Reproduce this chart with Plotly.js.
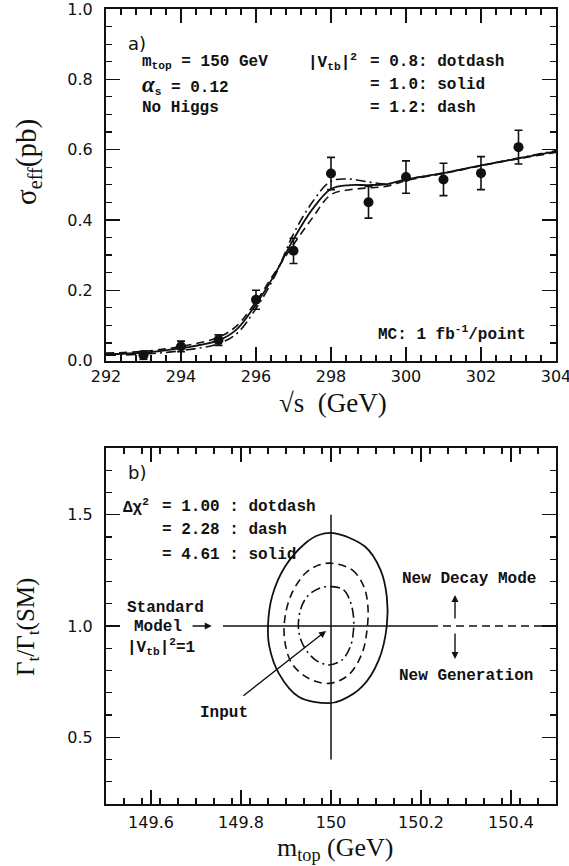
<!DOCTYPE html>
<html>
<head>
<meta charset="utf-8">
<script src="https://cdn.plot.ly/plotly-3.0.1.min.js"></script>
<style>
  html, body { margin: 0; padding: 0; background: #fff; }
  #chart { width: 569px; height: 866px; }
</style>
</head>
<body>
<div id="chart"></div>
<script>
// ---- Panel a: effective cross section near threshold ----
const sqrtS     = [293, 294, 295, 296, 297, 298, 299, 300, 301, 302, 303];
const sigmaEff  = [0.015, 0.040, 0.058, 0.173, 0.312, 0.532, 0.450, 0.522, 0.515, 0.533, 0.607];
const sigmaErr  = [0.012, 0.015, 0.015, 0.027, 0.036, 0.046, 0.045, 0.046, 0.046, 0.047, 0.048];

const curveS     = [292, 293, 294, 295, 295.5, 296, 296.5, 297, 297.5, 298, 298.5, 299, 299.5, 300, 301, 302, 303, 304];
const sigVtb10   = [0.018, 0.022, 0.035, 0.057, 0.090, 0.160, 0.245, 0.345, 0.430, 0.488, 0.499, 0.499, 0.502, 0.515, 0.533, 0.555, 0.575, 0.595];
const sigVtb08   = [0.015, 0.018, 0.028, 0.048, 0.078, 0.148, 0.240, 0.360, 0.450, 0.510, 0.516, 0.508, 0.502, 0.515, 0.533, 0.555, 0.576, 0.597];
const sigVtb12   = [0.021, 0.026, 0.040, 0.066, 0.100, 0.168, 0.250, 0.330, 0.405, 0.472, 0.486, 0.491, 0.496, 0.512, 0.532, 0.554, 0.574, 0.592];

// ---- Panel b: fit contours in (m_top, Gamma_t / Gamma_t(SM)) ----
const chi2_100_m = [150.002, 150.028, 150.043, 150.050, 150.050, 150.043, 150.024, 149.995, 149.966, 149.940, 149.928, 149.932, 149.947, 149.973, 150.002];
const chi2_100_g = [1.177, 1.162, 1.109, 1.042, 0.982, 0.907, 0.847, 0.825, 0.847, 0.907, 0.982, 1.072, 1.132, 1.169, 1.177];

const chi2_228_m = [150.002, 150.047, 150.073, 150.082, 150.080, 150.069, 150.039, 149.995, 149.950, 149.913, 149.897, 149.898, 149.913, 149.943, 149.973, 150.002];
const chi2_228_g = [1.282, 1.252, 1.177, 1.087, 0.982, 0.877, 0.780, 0.742, 0.765, 0.832, 0.937, 1.042, 1.147, 1.237, 1.274, 1.282];

const chi2_461_m = [150.006, 150.076, 150.110, 150.124, 150.124, 150.106, 150.069, 150.024, 149.995, 149.928, 149.884, 149.863, 149.860, 149.869, 149.898, 149.943, 149.973, 150.006];
const chi2_461_g = [1.417, 1.356, 1.252, 1.132, 1.000, 0.847, 0.727, 0.667, 0.653, 0.682, 0.787, 0.907, 1.000, 1.132, 1.267, 1.372, 1.409, 1.417];

// input point and reference lines
const inputMass  = 150.0;
const inputRatio = 1.0;
const vLineG     = [0.4, 1.5];
const smSolidM   = [149.76, 150.22];
const smDashM    = [150.22, 150.5];

const xTicksA = [292, 294, 296, 298, 300, 302, 304];
const yTicksA = [0.0, 0.2, 0.4, 0.6, 0.8, 1.0];
const yTicksB = [0.5, 1.0, 1.5];
const yTickTextB = ['0.5', '1.0', '1.5'];

// ---- styling ----
const INK = '#111';
const tickFont = { family: 'DejaVu Sans', size: 16, color: INK };
const monoFont = { family: 'Liberation Mono', size: 16, color: INK, weight: 'bold' };
const serifTitle = { family: 'Liberation Serif', size: 27, color: INK };

function axisBase(extra) {
  return Object.assign({
    showline: true, linecolor: INK, linewidth: 2, mirror: 'ticks',
    ticks: 'inside', ticklen: 14, tickwidth: 1.4, tickcolor: INK,
    showgrid: false, zeroline: false, tickfont: tickFont, fixedrange: true,
    ticklabeloverflow: 'allow'
  }, extra);
}

const traces = [
  { x: curveS, y: sigVtb10, xaxis: 'x', yaxis: 'y', mode: 'lines',
    line: { color: INK, width: 1.8, shape: 'spline' }, hoverinfo: 'skip' },
  { x: curveS, y: sigVtb08, xaxis: 'x', yaxis: 'y', mode: 'lines',
    line: { color: INK, width: 1.6, shape: 'spline', dash: '10px,4px,2px,4px' }, hoverinfo: 'skip' },
  { x: curveS, y: sigVtb12, xaxis: 'x', yaxis: 'y', mode: 'lines',
    line: { color: INK, width: 1.6, shape: 'spline', dash: '8px,5px' }, hoverinfo: 'skip' },
  { x: sqrtS, y: sigmaEff, xaxis: 'x', yaxis: 'y', mode: 'markers',
    marker: { color: INK, size: 10 },
    error_y: { type: 'data', array: sigmaErr, visible: true, color: INK, thickness: 1.6, width: 4 } },

  // reference lines in panel b
  { x: [inputMass, inputMass], y: vLineG, xaxis: 'x2', yaxis: 'y2', mode: 'lines',
    line: { color: INK, width: 1.5 }, hoverinfo: 'skip' },
  { x: smSolidM, y: [inputRatio, inputRatio], xaxis: 'x2', yaxis: 'y2', mode: 'lines',
    line: { color: INK, width: 1.5 }, hoverinfo: 'skip' },
  { x: smDashM, y: [inputRatio, inputRatio], xaxis: 'x2', yaxis: 'y2', mode: 'lines',
    line: { color: INK, width: 1.5, dash: '8px,5px' }, hoverinfo: 'skip' },

  // contours
  { x: chi2_100_m, y: chi2_100_g, xaxis: 'x2', yaxis: 'y2', mode: 'lines',
    line: { color: INK, width: 1.6, shape: 'spline', dash: '10px,4px,2px,4px' }, hoverinfo: 'skip' },
  { x: chi2_228_m, y: chi2_228_g, xaxis: 'x2', yaxis: 'y2', mode: 'lines',
    line: { color: INK, width: 1.6, shape: 'spline', dash: '8px,5px' }, hoverinfo: 'skip' },
  { x: chi2_461_m, y: chi2_461_g, xaxis: 'x2', yaxis: 'y2', mode: 'lines',
    line: { color: INK, width: 1.8, shape: 'spline' }, hoverinfo: 'skip' }
];

function txt(xref, yref, x, y, text, opts) {
  return Object.assign({ xref: xref, yref: yref, x: x, y: y, text: text, showarrow: false,
    xanchor: 'left', yanchor: 'middle', font: monoFont }, opts || {});
}
function arrow(xref, yref, x0, y0, x1, y1) {
  return { xref: xref, yref: yref, axref: xref, ayref: yref, x: x1, y: y1, ax: x0, ay: y0,
    text: '', showarrow: true, arrowhead: 2, arrowsize: 1, arrowwidth: 1.4, arrowcolor: INK };
}

const annotations = [
  // panel a labels
  txt('x', 'y', 292.53, 0.903, 'a)', { font: { family: 'DejaVu Sans', size: 18, color: INK } }),
  txt('x', 'y', 292.9, 0.849, 'm<sub>top</sub> = 150 GeV'),
  txt('x', 'y', 292.9, 0.784, '<span style="font-family:Liberation Serif;font-size:23px;font-style:italic">α</span><sub>s</sub> = 0.12'),
  txt('x', 'y', 292.9, 0.718, 'No Higgs'),
  txt('x', 'y', 298.75, 0.849, '|V<sub>tb</sub>|<sup>2</sup>', { xanchor: 'right' }),
  txt('x', 'y', 298.99, 0.849, '= 0.8: dotdash'),
  txt('x', 'y', 298.99, 0.784, '= 1.0: solid'),
  txt('x', 'y', 298.99, 0.718, '= 1.2: dash'),
  txt('x', 'y', 303.25, 0.078, 'MC: 1 fb<sup>-1</sup>/point', { xanchor: 'right' }),

  // axis titles
  { xref: 'paper', yref: 'paper', x: 28 / 569, y: 1 - 162 / 866, textangle: -90, showarrow: false,
    xanchor: 'center', yanchor: 'middle',
    text: 'σ<sub>eff</sub>(pb)', font: { family: 'Liberation Serif', size: 29, color: INK } },
  { xref: 'paper', yref: 'paper', x: 333 / 569, y: 1 - 403 / 866, showarrow: false,
    text: '√s  (GeV)', font: serifTitle },
  { xref: 'paper', yref: 'paper', x: 27 / 569, y: 1 - 627 / 866, textangle: -90, showarrow: false,
    xanchor: 'center', yanchor: 'middle',
    text: 'Γ<sub>t</sub>/Γ<sub>t</sub>(SM)', font: { family: 'Liberation Serif', size: 25, color: INK } },
  { xref: 'paper', yref: 'paper', x: 335 / 569, y: 0, showarrow: false,
    xanchor: 'center', yanchor: 'bottom', borderpad: 0,
    text: 'm<sub>top</sub> (GeV)', font: { family: 'Liberation Serif', size: 26, color: INK } },

  // panel b labels
  txt('x2', 'y2', 149.544, 1.688, 'b)', { font: { family: 'DejaVu Sans', size: 18, color: INK } }),
  txt('x2', 'y2', 149.6, 1.535, 'Δχ<sup>2</sup>', { xanchor: 'right' }),
  txt('x2', 'y2', 149.62, 1.535, '= 1.00 : dotdash'),
  txt('x2', 'y2', 149.62, 1.431, '= 2.28 : dash'),
  txt('x2', 'y2', 149.62, 1.319, '= 4.61 : solid'),
  txt('x2', 'y2', 149.633, 1.081, 'Standard', { xanchor: 'center' }),
  txt('x2', 'y2', 149.616, 0.996, 'Model', { xanchor: 'center' }),
  txt('x2', 'y2', 149.622, 0.906, '|V<sub>tb</sub>|<sup>2</sup>=1', { xanchor: 'center' }),
  txt('x2', 'y2', 150.307, 1.211, 'New Decay Mode', { xanchor: 'center' }),
  txt('x2', 'y2', 150.300, 0.775, 'New Generation', { xanchor: 'center' }),
  txt('x2', 'y2', 149.762, 0.609, 'Input', { xanchor: 'center' }),

  // arrows
  arrow('x2', 'y2', 149.689, 1.0, 149.735, 1.0),
  arrow('x2', 'y2', 150.2756, 1.027, 150.2756, 1.139),
  arrow('x2', 'y2', 150.2756, 0.973, 150.2756, 0.852),
  arrow('x2', 'y2', 149.802, 0.681, 149.989, 0.978)
];

const layout = {
  width: 569, height: 866,
  margin: { l: 0, r: 0, t: 0, b: 0 },
  paper_bgcolor: '#fff', plot_bgcolor: '#fff',
  showlegend: false,
  xaxis: axisBase({ domain: [106 / 569, 556 / 569], anchor: 'y', range: [292, 304],
    tickmode: 'array', tickvals: xTicksA,
    minor: { dtick: 0.4, tick0: 292, ticklen: 6, tickwidth: 1.2, tickcolor: INK, ticks: 'inside' } }),
  yaxis: axisBase({ domain: [1 - 360.5 / 866, 1 - 9 / 866], anchor: 'x', range: [0, 1],
    tickmode: 'array', tickvals: yTicksA, tickformat: '.1f', ticklabelstandoff: 8,
    minor: { dtick: 0.05, tick0: 0, ticklen: 6, tickwidth: 1.2, tickcolor: INK, ticks: 'inside' } }),
  xaxis2: axisBase({ domain: [106 / 569, 556 / 569], anchor: 'y2', range: [149.5, 150.5],
    dtick: 0.2, tick0: 149.6, ticklabelstandoff: 3,
    minor: { dtick: 0.04, tick0: 149.5, ticklen: 6, tickwidth: 1.2, tickcolor: INK, ticks: 'inside' } }),
  yaxis2: axisBase({ domain: [1 - 804 / 866, 1 - 448 / 866], anchor: 'x2', range: [0.2, 1.8],
    tickmode: 'array', tickvals: yTicksB, ticktext: yTickTextB, ticklabelstandoff: 8,
    minor: { dtick: 0.1, tick0: 0.2, ticklen: 6, tickwidth: 1.2, tickcolor: INK, ticks: 'inside' } }),
  annotations: annotations
};

Plotly.newPlot('chart', traces, layout, { staticPlot: true, displayModeBar: false });
</script>
</body>
</html>
